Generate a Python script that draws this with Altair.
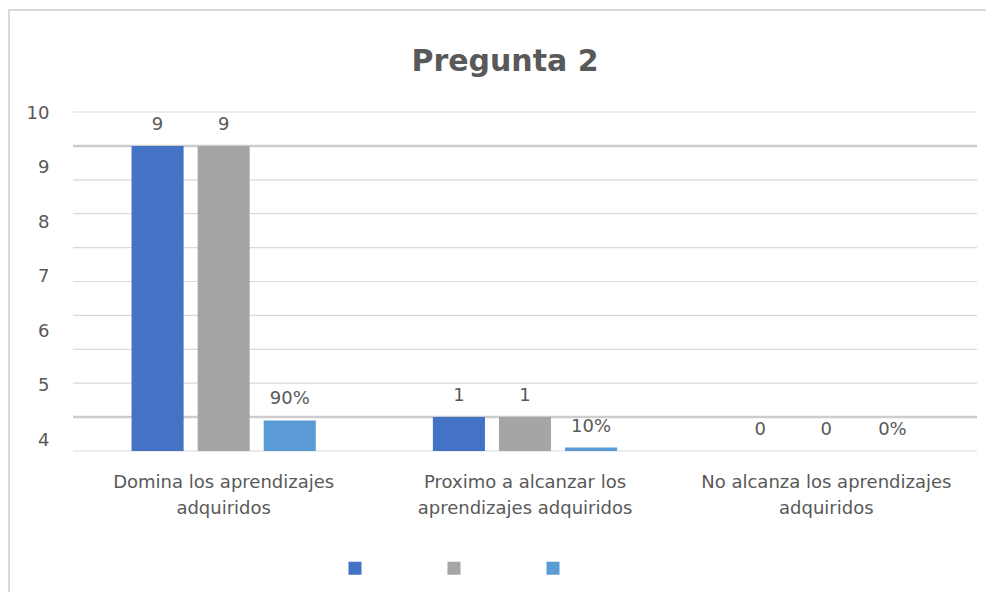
import json
import altair as alt
import pandas as pd

# ---- data ----
categories = [
    "Domina los aprendizajes adquiridos",
    "Proximo a alcanzar los aprendizajes adquiridos",
    "No alcanza los aprendizajes adquiridos",
]
category_lines = [
    ["Domina los aprendizajes", "adquiridos"],
    ["Proximo a alcanzar los", "aprendizajes adquiridos"],
    ["No alcanza los aprendizajes", "adquiridos"],
]
series = ["Serie1", "Serie2", "Serie3"]
serie1 = [9, 1, 0]
serie2 = [9, 1, 0]
serie3 = [0.9, 0.1, 0.0]          # shown as percentages
y_tick_labels = [10, 9, 8, 7, 6, 5, 4]
grid_levels = [0, 1, 2, 3, 4, 5, 6, 7, 8, 9, 10]
colors = ["#4472C4", "#A5A5A5", "#5B9BD5"]

rows = []
for i, c in enumerate(categories):
    for s, vals in zip(series, [serie1, serie2, serie3]):
        v = vals[i]
        lab = f"{round(v * 100)}%" if s == "Serie3" else f"{v:g}"
        rows.append({"cat": c, "serie": s, "value": v, "label": lab})
df = pd.DataFrame(rows)
grid_df = pd.DataFrame({"value": grid_levels})

# odd axis labelling of the original: labels 10..4 spread over the whole axis
tick_pos = [round(0.32 + (l - 4) * 1.608, 3) for l in y_tick_labels]
label_map = {str(p): str(l) for p, l in zip(tick_pos, y_tick_labels)}
line_map = {c: ln for c, ln in zip(categories, category_lines)}

FONT = "DejaVu Sans"
TXT = "#595959"

x_enc = alt.X(
    "cat:N",
    sort=categories,
    scale=alt.Scale(domain=categories, paddingInner=0, paddingOuter=0),
    axis=alt.Axis(
        title=None, domain=False, ticks=False, labelAngle=0,
        labelExpr=f"{json.dumps(line_map)}[datum.value]",
        labelFont=FONT, labelFontSize=18, labelColor=TXT,
        labelPadding=22, labelLineHeight=26, labelBaseline="top",
        labelLimit=400,
    ),
)
y_enc = alt.Y(
    "value:Q",
    scale=alt.Scale(domain=[0, 10], nice=False, zero=True),
    axis=alt.Axis(
        title=None, domain=False, ticks=False, grid=False,
        values=tick_pos,
        labelExpr=f"{json.dumps(label_map)}[toString(datum.value)]",
        labelFont=FONT, labelFontSize=18, labelColor=TXT, labelPadding=24,
    ),
)
xoff = alt.XOffset("serie:N", sort=series,
                   scale=alt.Scale(paddingInner=0.212, paddingOuter=0.886))

grid = alt.Chart(grid_df).mark_rule().encode(
    y=y_enc,
    color=alt.condition("datum.value == 1 || datum.value == 9",
                        alt.value("#cdcdcd"), alt.value("#d9d9d9")),
    strokeWidth=alt.condition("datum.value == 1 || datum.value == 9",
                              alt.value(2.5), alt.value(1.2)),
)

bars = alt.Chart(df).mark_bar().encode(
    x=x_enc,
    xOffset=xoff,
    y=y_enc,
    color=alt.Color(
        "serie:N", sort=series,
        scale=alt.Scale(domain=series, range=colors),
        legend=alt.Legend(
            title=None, orient="none", direction="horizontal",
            legendX=275, legendY=449, labelExpr="''", symbolType="square",
            symbolSize=170, symbolStrokeWidth=0, columnPadding=85,
            labelOffset=0, padding=0,
        ),
    ),
)

texts = alt.Chart(df).mark_text(
    font=FONT, fontSize=18, color=TXT, baseline="alphabetic", dy=-16
).encode(x=x_enc, xOffset=xoff, y=y_enc, text="label:N")

one = pd.DataFrame({"a": [0]})
border_left = alt.Chart(one).mark_rule(color="#d9d9d9", strokeWidth=2).encode(
    x=alt.value(-64), y=alt.value(-103), y2=alt.value(480))
border_top = alt.Chart(one).mark_rule(color="#d9d9d9", strokeWidth=2).encode(
    x=alt.value(-65), x2=alt.value(915), y=alt.value(-102))

chart = alt.layer(grid, bars, texts, border_left, border_top).properties(
    width=904, height=339,
    background="white",
    title=alt.TitleParams(
        "Pregunta 2", font=FONT, fontSize=30, fontWeight="bold", color=TXT,
        anchor="middle", frame="group", offset=-69, dx=-20,
    ),
    autosize=alt.AutoSizeParams(type="none"),
    padding={"left": 65, "top": 104, "right": 9, "bottom": 144},
).configure_view(stroke=None)

chart.save("out.html", embed_options={"renderer": "svg", "actions": False})
